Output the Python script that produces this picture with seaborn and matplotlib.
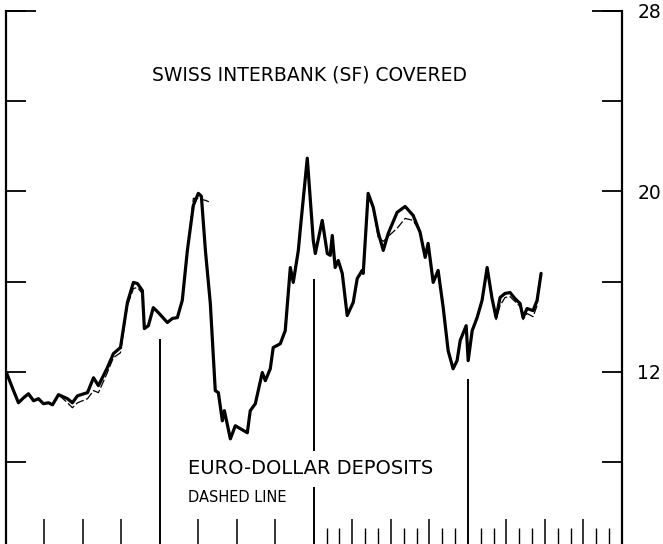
import numpy as np
import pandas as pd
import seaborn as sns
import matplotlib.pyplot as plt

# Time axis in years from the left edge (4 years shown)
t_years = [0.006, 0.052, 0.084, 0.117, 0.149, 0.182, 0.214, 0.246, 0.279, 0.305,
           0.344, 0.402, 0.434, 0.467, 0.532, 0.571, 0.603, 0.661, 0.700, 0.746,
           0.791, 0.830, 0.856, 0.888, 0.901, 0.927, 0.959, 0.992, 1.050, 1.083,
           1.115, 1.147, 1.180, 1.219, 1.251, 1.271, 1.297, 1.329, 1.361, 1.381,
           1.407, 1.420, 1.459, 1.491, 1.524, 1.569, 1.588, 1.621, 1.666, 1.686,
           1.718, 1.737, 1.783, 1.815, 1.848, 1.867, 1.900, 1.912, 1.958, 1.997,
           2.010, 2.055, 2.088, 2.107, 2.120, 2.139, 2.159, 2.185, 2.217, 2.256,
           2.282, 2.314, 2.321, 2.353, 2.386, 2.418, 2.451, 2.483, 2.541, 2.593,
           2.645, 2.690, 2.723, 2.742, 2.775, 2.807, 2.840, 2.872, 2.904, 2.930,
           2.950, 2.989, 3.002, 3.028, 3.060, 3.092, 3.125, 3.157, 3.183, 3.209,
           3.241, 3.274, 3.306, 3.339, 3.358, 3.384, 3.423, 3.449, 3.475]

# Swiss interbank (SF) covered rate, percent
swiss_covered = [11.96, 11.16, 10.62, 10.84, 11.02, 10.71, 10.80, 10.58, 10.62, 10.53,
                 10.98, 10.80, 10.62, 10.93, 11.07, 11.73, 11.38, 12.18, 12.80, 13.07,
                 15.07, 15.96, 15.91, 15.60, 13.91, 14.04, 14.84, 14.62, 14.18, 14.36,
                 14.40, 15.16, 17.38, 19.38, 19.91, 19.78, 17.38, 15.02, 11.16, 11.07,
                 9.82, 10.27, 9.02, 9.60, 9.47, 9.29, 10.27, 10.58, 11.96, 11.60,
                 12.13, 13.07, 13.24, 13.82, 16.62, 15.96, 17.38, 18.27, 21.47, 17.82,
                 17.24, 18.71, 17.24, 17.16, 18.04, 16.62, 16.93, 16.36, 14.49, 15.07,
                 16.13, 16.49, 16.36, 19.91, 19.29, 18.18, 17.38, 18.13, 19.07, 19.33,
                 18.93, 18.18, 17.07, 17.69, 15.96, 16.49, 14.84, 12.93, 12.13, 12.49,
                 13.38, 14.04, 12.49, 13.82, 14.40, 15.16, 16.62, 15.24, 14.40, 15.29,
                 15.47, 15.51, 15.24, 15.02, 14.40, 14.80, 14.71, 15.16, 16.36]

# Euro-dollar deposit rate, percent (dashed line); nan = break in the line
nan = np.nan
euro_dollar = [11.96, 11.16, 10.62, 10.84, 11.02, 10.71, 10.80, 10.58, 10.62, 10.53,
               10.98, 10.62, 10.40, 10.62, 10.80, 11.16, 11.07, 11.96, 12.62, 12.84,
               14.93, 15.69, 15.73, 15.47, 13.91, 14.04, 14.84, 14.62, 14.18, 14.36,
               14.40, 15.16, 17.38, 19.69, 19.69, 19.64, 19.60, 19.51, nan, 11.07,
               9.82, 10.27, 9.02, 9.60, 9.47, 9.29, 10.27, 10.58, 11.96, 11.60,
               12.13, 13.07, 13.24, 13.82, 16.62, 15.96, 17.38, 18.27, 21.47, 17.82,
               17.24, 18.71, 17.24, 17.16, 18.04, 16.62, 16.93, 16.36, 14.49, 15.07,
               16.13, 16.49, 16.36, 19.91, 19.29, 17.96, 17.78, 18.00, 18.36, 18.80,
               18.71, 18.18, 17.07, 17.69, 15.96, 16.49, 14.84, 12.93, 12.13, 12.49,
               13.38, 14.04, 12.49, 13.82, 14.40, 15.16, 16.62, 15.24, 14.31, 14.93,
               15.29, 15.33, 15.11, 14.89, 14.31, 14.58, 14.44, 14.93, 16.36]

rate_ticks = [4, 8, 12, 16, 20, 24, 28]
rate_labels = ["4", "", "12", "", "20", "", "28"]
quarter_ticks = [0.25, 0.5, 0.75, 1.25, 1.5, 1.75, 2.25, 2.5, 2.75, 3.25, 3.5, 3.75]
month_ticks = [y + m / 12 for y in (2, 3) for m in (1, 2, 4, 5, 7, 8, 10, 11)]
year_lines = [1, 2, 3]
year_line_tops = [13.47, 16.13, 11.69]

df = pd.DataFrame({"t": t_years, "swiss": swiss_covered, "euro": euro_dollar})
# split the euro-dollar series where it breaks so no joining segment is drawn
df["piece"] = df["euro"].isna().cumsum()

sns.set_style("white")
plt.rcParams["font.family"] = ["DejaVu Sans"]
plt.rcParams["text.color"] = "black"
plt.rcParams["xtick.color"] = "black"
plt.rcParams["ytick.color"] = "black"

W, H = 663, 544
fig = plt.figure(figsize=(W / 100, H / 100), dpi=100)
left, right, top, bottom = 5.5, 622, 11, 552
ax = fig.add_axes([left / W, (H - bottom) / H, (right - left) / W, (bottom - top) / H])

for _, part in df.dropna(subset=["euro"]).groupby("piece"):
    sns.lineplot(data=part, x="t", y="euro", ax=ax, color="black", lw=0.9,
                 estimator=None, sort=False, linestyle=(0, (7, 2)), zorder=2)
sns.lineplot(data=df, x="t", y="swiss", ax=ax, color="black", lw=2.3,
             estimator=None, sort=False, zorder=3)

# year dividers rising from the bottom
ax.vlines(year_lines, 4, year_line_tops, color="black", lw=1.4, zorder=1)

ax.set_xlim(0, 4)
ax.set_ylim(4, 28)
ax.set_xlabel("")
ax.set_ylabel("")

ax.set_yticks(rate_ticks)
ax.set_yticklabels(rate_labels)
ax.set_yticks([28], minor=True)
ax.yaxis.remove_overlapping_locs = False
ax.tick_params(axis="y", which="major", direction="in", length=14.5, width=1.3,
               left=True, right=True, labelleft=False, labelright=True,
               labelsize=13.5, pad=11, labelcolor="black")
ax.tick_params(axis="y", which="minor", direction="in", length=21.5, width=1.3,
               left=True, right=True)

ax.set_xticks(quarter_ticks)
ax.set_xticklabels([])
ax.set_xticks(month_ticks, minor=True)
ax.tick_params(axis="x", which="major", direction="in", length=24, width=1.1,
               bottom=True, top=False)
ax.tick_params(axis="x", which="minor", direction="in", length=17, width=1.0,
               bottom=True, top=False)

for s in ("left", "right"):
    ax.spines[s].set_linewidth(1.6)
    ax.spines[s].set_color("black")
ax.spines["top"].set_visible(False)
ax.spines["bottom"].set_color("black")

ax.text(1.97, 25.16, "SWISS INTERBANK (SF) COVERED", ha="center", va="center",
        fontsize=13.5, color="black")
ax.text(1.186, 7.69, "EURO-DOLLAR DEPOSITS", ha="left", va="center", fontsize=14,
        color="black", bbox=dict(facecolor="white", edgecolor="none", pad=6), zorder=4)
ax.text(1.186, 6.4, "DASHED LINE", ha="left", va="center", fontsize=10.5,
        color="black", zorder=4)

fig.savefig("out.png", dpi=100)
